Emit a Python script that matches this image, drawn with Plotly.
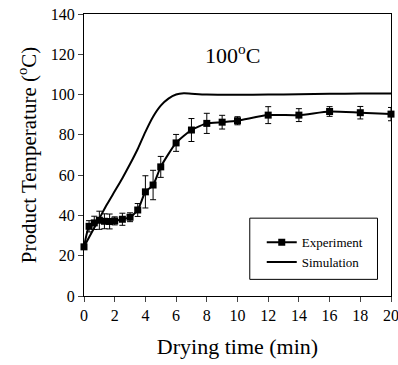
import plotly.graph_objects as go

# Experimental data
exp_t = [0, 0.33, 0.67, 1.0, 1.33, 1.67, 2.0, 2.5, 3.0, 3.5, 4.0, 4.5, 5.0,
         6.0, 7.0, 8.0, 9.0, 10.0, 12.0, 14.0, 16.0, 18.0, 20.0]
exp_T = [24.4, 34.6, 36.3, 37.6, 37.1, 37.0, 37.3, 38.1, 39.1, 42.7, 51.7, 55.1, 64.1,
         76.0, 82.4, 85.7, 86.3, 87.0, 89.8, 89.8, 91.6, 91.0, 90.3]
exp_err = [1.0, 2.8, 3.3, 4.5, 3.7, 3.7, 2.0, 3.0, 2.2, 3.2, 8.0, 7.3, 5.2,
           4.2, 5.7, 5.0, 3.4, 2.0, 4.2, 3.2, 2.4, 3.1, 3.3]

# Simulation data
sim_t = [0, 0.5, 1.0, 1.5, 2.0, 2.5, 3.0, 3.5, 4.0, 4.5, 5.0, 5.5, 6.0, 6.5,
         7.0, 8.0, 10.0, 12.0, 14.0, 16.0, 18.0, 20.0]
sim_T = [24.5, 31.5, 38.5, 45.5, 52.0, 58.5, 65.5, 73.0, 81.5, 89.0, 94.5, 98.0,
         100.0, 100.6, 100.4, 100.0, 99.9, 100.0, 100.2, 100.4, 100.5, 100.5]

x_ticks = [0, 2, 4, 6, 8, 10, 12, 14, 16, 18, 20]
y_ticks = [0, 20, 40, 60, 80, 100, 120, 140]

FONT = "Liberation Serif, Times New Roman, serif"

fig = go.Figure()
fig.add_trace(go.Scatter(
    x=exp_t, y=exp_T, name="Experiment", mode="lines+markers",
    line=dict(color="black", width=2, shape="spline", smoothing=0.6),
    marker=dict(symbol="square", size=7, color="black"),
    error_y=dict(type="data", array=exp_err, color="black", thickness=1, width=3),
    cliponaxis=False,
))
fig.add_trace(go.Scatter(
    x=sim_t, y=sim_T, name="Simulation", mode="lines",
    line=dict(color="black", width=2, shape="spline", smoothing=0.8),
    cliponaxis=False,
))

fig.add_annotation(x=9.7, y=120, xref="x", yref="y", text="100<sup>o</sup>C",
                   showarrow=False, font=dict(family=FONT, size=22, color="black"))

# legend frame
fig.add_shape(type="rect", xref="paper", yref="paper",
              x0=0.540, x1=0.956, y0=0.059, y1=0.276,
              line=dict(color="black", width=1), fillcolor="white", layer="below")

fig.update_layout(
    width=398, height=365,
    margin=dict(l=84, r=7, t=14, b=69),
    paper_bgcolor="white", plot_bgcolor="white",
    font=dict(family=FONT, color="black"),
    showlegend=True,
    legend=dict(x=0.579, y=0.244, xanchor="left", yanchor="top",
                borderwidth=0, bgcolor="rgba(0,0,0,0)",
                font=dict(family=FONT, size=13, color="black"),
                tracegroupgap=0),
    xaxis=dict(range=[0, 20], tickvals=x_ticks, ticks="outside", ticklen=5,
               showgrid=False, zeroline=False, showline=True, linecolor="black",
               linewidth=1, mirror=True, tickfont=dict(size=16),
               ticklabeloverflow="allow", automargin=False,
               title=dict(text="Drying time (min)", font=dict(size=22), standoff=15)),
    yaxis=dict(range=[0, 140], tickvals=y_ticks, ticks="outside", ticklen=5,
               showgrid=False, zeroline=False, showline=True, linecolor="black",
               linewidth=1, mirror=True, tickfont=dict(size=16),
               ticklabeloverflow="allow", automargin=False,
               title=dict(text="Product Temperature (<sup>o</sup>C)", font=dict(size=21),
                          standoff=8)),
)

fig.write_html("out.html")
